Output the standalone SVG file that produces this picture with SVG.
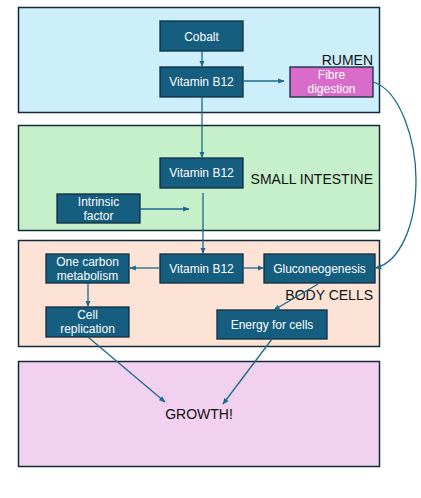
<svg xmlns="http://www.w3.org/2000/svg" width="421" height="498" viewBox="0 0 421 498">
<style>
.region{stroke:#14293a;stroke-width:1.5}
.node rect{fill:#155e80;stroke:#0f2b3e;stroke-width:1.3}
.node text{fill:#fff;font-family:"Liberation Sans",Arial,sans-serif;font-size:12px;text-anchor:middle}
.lbl{fill:#111;font-family:"Liberation Sans",Arial,sans-serif;font-size:14px}
.conn path{fill:none;stroke:#1b6a8c;stroke-width:1.3;marker-end:url(#ah)}
</style>
<defs>
<marker id="ah" viewBox="0 0 10 10" refX="9" refY="5" markerWidth="5" markerHeight="5" orient="auto"><path d="M0,1 L10,5 L0,9 z" fill="#1b6a8c"/></marker>
</defs>
<rect width="421" height="498" fill="#fff"/>
<g id="rumen"><rect class="region" x="18.5" y="7.5" width="361" height="105" fill="#cdeffc"/><text class="lbl" x="373" y="65" text-anchor="end">RUMEN</text></g>
<g id="small-intestine"><rect class="region" x="18.5" y="125.5" width="361" height="105" fill="#c5f0c9"/><text class="lbl" x="373" y="184" text-anchor="end" font-size="13.5">SMALL INTESTINE</text></g>
<g id="body-cells"><rect class="region" x="18.5" y="240.5" width="361" height="106" fill="#fce3d6"/><text class="lbl" x="373" y="300" text-anchor="end">BODY CELLS</text></g>
<g id="growth"><rect class="region" x="18.5" y="361.5" width="361" height="105" fill="#f2d0ef"/><text class="lbl" x="199" y="419" text-anchor="middle">GROWTH!</text></g>

<g id="cobalt" class="node"><rect x="160" y="21" width="83" height="30"/><text x="201.5" y="40.5">Cobalt</text></g>
<g id="vitb12-rumen" class="node"><rect x="160" y="67" width="83" height="30"/><text x="201.5" y="86">Vitamin B12</text></g>
<g id="fibre" class="node"><rect x="290" y="67" width="83" height="30" style="fill:#d96cc9"/><text x="331.5" y="79">Fibre</text><text x="331.5" y="93">digestion</text></g>
<g id="vitb12-si" class="node"><rect x="160" y="158" width="83" height="30"/><text x="201.5" y="177">Vitamin B12</text></g>
<g id="intrinsic" class="node"><rect x="57" y="194" width="83" height="29"/><text x="98.5" y="206">Intrinsic</text><text x="98.5" y="220">factor</text></g>
<g id="vitb12-body" class="node"><rect x="160" y="254" width="83" height="29"/><text x="201.5" y="273">Vitamin B12</text></g>
<g id="one-carbon" class="node"><rect x="46" y="254" width="83" height="29"/><text x="87.5" y="266">One carbon</text><text x="87.5" y="280">metabolism</text></g>
<g id="gluco" class="node"><rect x="264" y="254" width="111" height="29"/><text x="319.5" y="273">Gluconeogenesis</text></g>
<g id="cell-rep" class="node"><rect x="46" y="307" width="83" height="30"/><text x="87.5" y="319">Cell</text><text x="87.5" y="333">replication</text></g>
<g id="energy" class="node"><rect x="217" y="310" width="110" height="29"/><text x="272" y="329">Energy for cells</text></g>

<g id="connectors" class="conn">
<path d="M202,51 V66.5"/>
<path d="M243,81 H284"/>
<path d="M202,97 V157.5"/>
<path d="M140,209 H189"/>
<path d="M203,193 V253.5"/>
<path d="M160,268 H130"/>
<path d="M243,268 H263.5"/>
<path d="M88,283 V306.5"/>
<path d="M318,284 L274,310"/>
<path d="M88,337 L165,402"/>
<path d="M272,339 L223,404"/>
<path d="M373,82 C400,90 416,140 416,180 C416,225 400,262 375.5,268"/>
</g>
</svg>
